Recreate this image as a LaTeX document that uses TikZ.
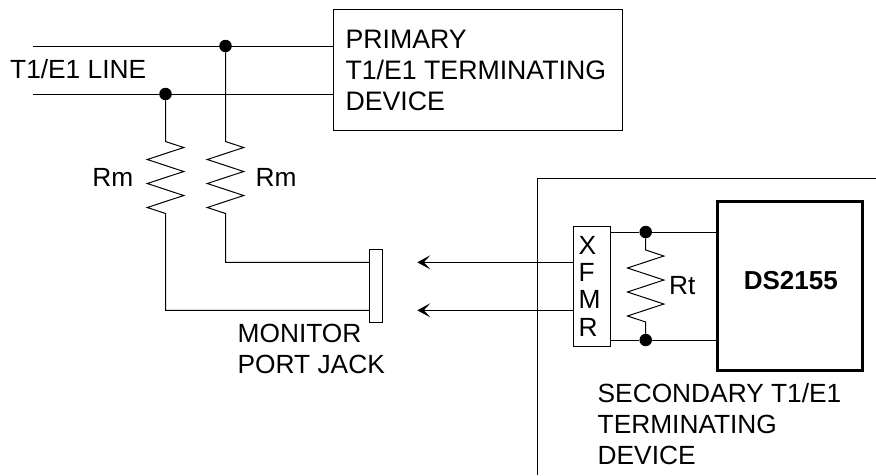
\documentclass[tikz,border=0pt]{standalone}
\usepackage{fontspec}
\setmainfont{Liberation Sans}
\usetikzlibrary{arrows.meta, positioning}
\tikzset{
    wire/.style={line width=1pt},
    dot/.style={circle,fill=black,inner sep=0pt,minimum size=12.5pt},
    box/.style={rectangle,draw,line width=1pt,inner sep=0pt},
    lbl/.style={inner sep=0pt,anchor=north west,align=left,font=\fontsize{26.3}{30.8}\selectfont},
    resistor/.style={to path={-- ++(18.2,\zigstep*0.5) -- ++(-36.4,\zigstep) -- ++(36.4,\zigstep) -- ++(-36.4,\zigstep) -- ++(36.4,\zigstep) -- ++(-36.4,\zigstep) -- ++(18.2,\zigstep*0.5) -- (\tikztotarget)}},
    probe/.style={wire,-{Stealth[length=13pt,width=14pt,inset=6.5pt]}}
}
\def\zigstep{12}
\begin{document}
\begin{tikzpicture}[x=1pt,y=-1pt]
\useasboundingbox (0,0) rectangle (876,475);
% Primary device
\node[box,minimum width=289.4pt,minimum height=120.7pt] (prim) at (478,70.3) {};
\node[lbl,font=\fontsize{26.7}{30.8}\selectfont] (primtxt) at (345.3,30) {PRIMARY\\T1/E1 TERMINATING\\DEVICE};
% T1/E1 line
\coordinate (linea) at (33,46);
\coordinate (lineb) at (33,94);
\coordinate (prima) at (prim.west |- linea);
\coordinate (primb) at (prim.west |- lineb);
\draw[wire] (linea) -- (prima);
\draw[wire] (lineb) -- (primb);
\node[lbl] (linetxt) at (10,59.6) {T1/E1 LINE};
\node[dot] (dota) at (225.5,46) {};
\node[dot] (dotb) at (165.5,94) {};
% Monitor jack
\node[box,minimum width=13pt,minimum height=72.7pt] (jack) at (375.8,286.3) {};
\coordinate (jacka) at (jack.west |- 0,262.3);
\coordinate (jackb) at (jack.west |- 0,310.3);
\node[lbl] (jacktxt) at (237.5,323.7) {MONITOR\\PORT JACK};
% Monitor resistors
\coordinate (rma) at (225.5,141.5);
\coordinate (rmb) at (165.5,141.5);
\coordinate (rmc) at (225.5,214);
\coordinate (rmd) at (165.5,214);
\draw[wire] (dota) -- (rma) to[resistor] (rmc) |- (jacka);
\draw[wire] (dotb) -- (rmb) to[resistor] (rmd) |- (jackb);
\node[lbl,anchor=north east] (rmatxt) at (133.5,167.7) {Rm};
\node[lbl] (rmbtxt) at (255.5,167.7) {Rm};
% Secondary device
\draw[wire] (876,178.3) -- (537.3,178.3) -- (537.3,475);
\node[box,minimum width=36.7pt,minimum height=120pt] (xfmr) at (591.7,286.7) {};
\node[inner sep=0pt,anchor=north west,align=left,font=\fontsize{26.3}{27.3}\selectfont] (xfmrtxt) at (578.5,236) {X\\F\\M\\R};
\node[box,line width=3.4pt,minimum width=145pt,minimum height=169pt] (chip) at (789.8,286.2) {};
\node[anchor=base,font=\fontsize{26}{26}\selectfont\bfseries,inner sep=0pt] (chiptxt) at (790.8,289.3) {DS2155};
\node[dot] (dotc) at (645.7,232) {};
\node[dot] (dotd) at (645.7,340) {};
\draw[wire] (xfmr.east |- dotc) -- (dotc) -- (chip.west |- dotc);
\draw[wire] (xfmr.east |- dotd) -- (dotd) -- (chip.west |- dotd);
\coordinate (rta) at (645.7,250);
\coordinate (rtb) at (645.7,322);
\draw[wire] (dotc) -- (rta) to[resistor] (rtb) -- (dotd);
\node[lbl] (rttxt) at (669,276) {Rt};
\node[lbl] (sectxt) at (597.5,383.7) {SECONDARY T1/E1\\TERMINATING\\DEVICE};
% Monitor arrows
\coordinate (arra) at (417.3,262.3);
\coordinate (arrb) at (417.3,310.3);
\draw[probe] (xfmr.west |- arra) -- (arra);
\draw[probe] (xfmr.west |- arrb) -- (arrb);
\end{tikzpicture}
\end{document}
